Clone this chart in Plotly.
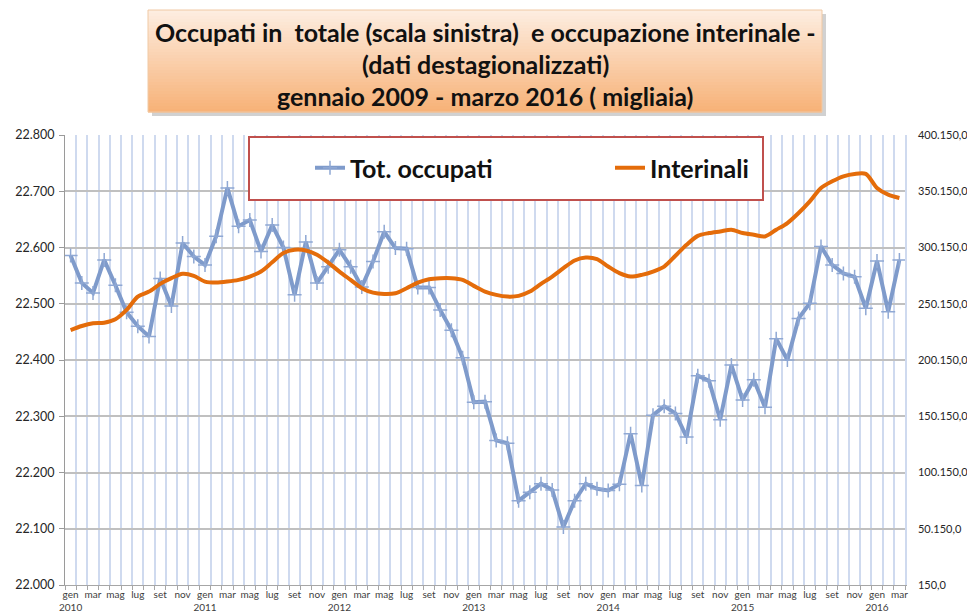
import plotly.graph_objects as go

# ---------------- data ----------------
month_names = ["gen", "feb", "mar", "apr", "mag", "giu", "lug", "ago", "set", "ott", "nov", "dic"]
years = [2010, 2011, 2012, 2013, 2014, 2015, 2016]

# Occupati totali (migliaia) - scala sinistra, gen 2010 .. mar 2016
tot_occupati = [
    22586, 22537, 22519, 22578, 22533, 22485, 22460, 22442, 22545, 22496,
    22608, 22584, 22569, 22620, 22706, 22638, 22649, 22593, 22640, 22600,
    22516, 22610, 22537, 22566, 22596, 22566, 22530, 22575, 22628, 22599,
    22598, 22529, 22529, 22489, 22453, 22404, 22325, 22326, 22257, 22252,
    22150, 22165, 22180, 22169, 22103, 22150, 22180, 22171, 22168, 22179,
    22269, 22177, 22302, 22318, 22305, 22263, 22372, 22363, 22294, 22391,
    22329, 22365, 22316, 22438, 22400, 22474, 22501, 22602, 22569, 22554,
    22548, 22492, 22576, 22486, 22578,
]

# Interinali - scala destra
interinali = [
    226800, 230370, 232780, 233320, 236350, 244640, 256490, 260950, 267810, 272890,
    276720, 274940, 269860, 268970, 269860, 271380, 274320, 278770, 287000, 295170,
    298110, 297490, 293650, 286790, 278770, 271380, 263980, 260050, 258890, 259520,
    263980, 268970, 272000, 272890, 272890, 271380, 266030, 260950, 258000, 256490,
    257110, 260950, 267810, 274320, 281800, 288580, 291250, 289820, 283230, 277350,
    274320, 275830, 278770, 283230, 292770, 302570, 310500, 313000, 314430, 315940,
    313000, 311480, 309970, 315940, 321910, 330820, 341160, 353100, 358990, 363450,
    365580, 365580, 353100, 347130, 344190,
]

series_names = ["Tot. occupati", "Interinali"]
title_lines = [
    "Occupati in  totale (scala sinistra)  e occupazione interinale -",
    "(dati destagionalizzati)",
    "gennaio 2009 - marzo 2016 ( migliaia)",
]

# ---------------- build ----------------
n = len(tot_occupati)
x = list(range(n))
tickvals = []
ticktext = []
for i in range(0, n, 2):
    m = month_names[i % 12]
    if i % 12 == 0:
        ticktext.append(f"{m}<br>{years[i // 12]}")
    else:
        ticktext.append(m)
    tickvals.append(i)

FONT = "Lato"
BLUE = "#7F9BCB"
ORANGE = "#E46C0A"

fig = go.Figure()
fig.add_trace(go.Scatter(
    x=x, y=tot_occupati, name=series_names[0], mode="lines+markers",
    line=dict(color=BLUE, width=4),
    marker=dict(symbol="cross-thin", size=10, color=BLUE, line=dict(width=1.5, color="#8FA8D4")),
    yaxis="y",
))
fig.add_trace(go.Scatter(
    x=x, y=interinali, name=series_names[1], mode="lines",
    line=dict(color=ORANGE, width=4, shape="spline", smoothing=0.8),
    yaxis="y2",
))

# plot area in pixels
W, H = 967, 615
L, R, T, B = 65, 62, 135, 30
pw, ph = W - L - R, H - T - B


def px(xp):
    return (xp - L) / pw


def py(yp):
    return (H - B - yp) / ph


shapes = []
# title box shadow
shapes.append(dict(type="rect", xref="paper", yref="paper",
                   x0=px(152), x1=px(826), y0=py(116), y1=py(14),
                   fillcolor="rgba(0,0,0,0.18)", line=dict(width=0), layer="below"))
# gradient strips
top_c = (253, 237, 224)
bot_c = (247, 178, 120)
y_top, y_bot = 10, 112
nstrip = 34
for k in range(nstrip):
    t = k / (nstrip - 1)
    c = tuple(round(top_c[j] + (bot_c[j] - top_c[j]) * t) for j in range(3))
    ya = y_top + (y_bot - y_top) * k / nstrip
    yb = y_top + (y_bot - y_top) * (k + 1) / nstrip
    shapes.append(dict(type="rect", xref="paper", yref="paper",
                       x0=px(148), x1=px(822), y0=py(yb + 0.5), y1=py(ya),
                       fillcolor=f"rgb{c}", line=dict(width=0), layer="below"))
shapes.append(dict(type="rect", xref="paper", yref="paper",
                   x0=px(148), x1=px(822), y0=py(112), y1=py(10),
                   fillcolor="rgba(0,0,0,0)", line=dict(width=1, color="#F0C9A4"), layer="below"))
# legend box
shapes.append(dict(type="rect", xref="paper", yref="paper",
                   x0=px(249), x1=px(763), y0=py(200), y1=py(137),
                   fillcolor="white", line=dict(width=2, color="#C0504D"), layer="above"))

annotations = []
for k, (txt, yc) in enumerate(zip(title_lines, [32, 64, 96])):
    annotations.append(dict(text=f"<b>{txt}</b>", xref="paper", yref="paper",
                            x=px(485), y=py(yc), xanchor="center", yanchor="middle",
                            showarrow=False, font=dict(family=FONT, size=25, color="#111111")))

fig.update_layout(
    width=W, height=H,
    margin=dict(l=L, r=R, t=T, b=B, autoexpand=False),
    paper_bgcolor="white", plot_bgcolor="white",
    separators=",.",
    showlegend=True,
    legend=dict(orientation="h", x=px(310), y=py(168), xanchor="left", yanchor="middle",
                bgcolor="rgba(0,0,0,0)", borderwidth=0,
                font=dict(family=FONT, size=25, color="#111111", weight="bold"),
                entrywidth=255, entrywidthmode="pixels", itemwidth=30),
    shapes=shapes,
    annotations=annotations,
    xaxis=dict(
        range=[-0.5, n - 0.5], tickmode="array", tickvals=tickvals, ticktext=ticktext,
        tickangle=0, automargin=False,
        showgrid=False, ticks="", zeroline=False,
        showline=True, linecolor="#A6A6A6", linewidth=1,
        tickfont=dict(family=FONT, size=10, color="#404040"),
        minor=dict(tickvals=[i + 0.5 for i in range(-1, n)], showgrid=True,
                   gridcolor="#CFDAEF", gridwidth=1.5, ticks="outside", ticklen=4,
                   tickcolor="#A6A6A6"),
    ),
    yaxis=dict(
        range=[22000, 22800], dtick=100, tickformat=",d", automargin=False,
        showgrid=True, gridcolor="#C0C0C0", gridwidth=1.5, zeroline=False,
        showline=True, linecolor="#9A9A9A", linewidth=1,
        ticks="outside", ticklen=5, tickcolor="#9A9A9A", ticklabelstandoff=2,
        tickfont=dict(family=FONT, size=12.5, color="#262626"),
    ),
    yaxis2=dict(
        range=[150, 400150], tick0=150, dtick=50000, tickformat=",.1f",
        overlaying="y", side="right", showgrid=False, zeroline=False, automargin=False,
        showline=True, linecolor="#CFDAEF", linewidth=1.5, ticks="",
        ticklabelstandoff=9,
        tickfont=dict(family=FONT, size=11, color="#262626"),
    ),
)

fig.write_html(
    "out.html",
    config={"displayModeBar": False},
    post_script="document.body.style.margin='0';document.body.style.overflow='hidden';"
                "document.documentElement.style.overflow='hidden';",
)
